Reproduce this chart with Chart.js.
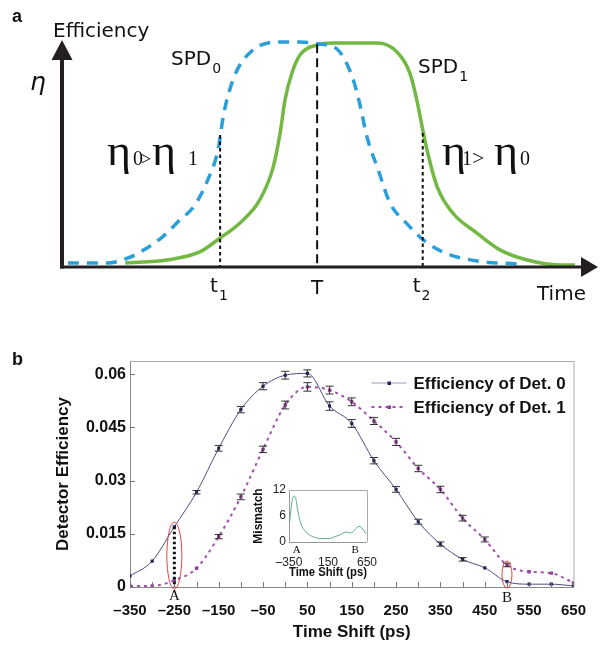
<!DOCTYPE html>
<html><head><meta charset="utf-8">
<script src="https://cdn.jsdelivr.net/npm/chart.js@4.4.1/dist/chart.umd.min.js"></script>
<style>
html,body{margin:0;padding:0;background:#fff;}
#wrap{position:relative;width:601px;height:645px;overflow:hidden;background:#fff;}
canvas{position:absolute;}
#ca{left:0;top:0;}
#cb{left:0;top:320px;}
#ci{left:240px;top:478px;}
</style></head><body>
<div id="wrap">
<canvas id="ca" width="601" height="320"></canvas>
<canvas id="cb" width="601" height="325"></canvas>
<canvas id="ci" width="150" height="102"></canvas>
</div>
<script>
// ---------- Panel a (schematic) ----------
const schemeTime0 = [1.1, 8.6, 12.3, 14.9, 18.7, 21.6, 24.8, 27.2, 29.1, 30.2, 32.1, 35.2, 40.7, 44.4, 48.1, 51.3, 54.1, 55.6, 56.9, 59.0, 61.2, 64.2, 67.9, 72.0, 77.4, 84.9];
const schemeEff0  = [1.8, 1.8, 4.0, 7.1, 13.3, 20.0, 27.6, 38.7, 52.0, 68.4, 84.4, 95.6, 100, 100, 99.1, 96.9, 84.9, 72.0, 57.8, 43.1, 28.4, 19.6, 11.1, 5.8, 2.7, 1.3];
const schemeTime1 = [11.8, 19.6, 25.7, 29.5, 33.2, 36.9, 39.4, 40.7, 41.6, 42.9, 44.4, 47.6, 50.6, 58.8, 62.5, 64.9, 66.2, 67.2, 68.1, 70.0, 72.9, 77.4, 81.7, 86.8, 92.9, 95.7];
const schemeEff1  = [1.8, 3.1, 6.7, 12.9, 19.6, 29.8, 44.4, 59.6, 74.2, 86.2, 94.2, 98.7, 99.6, 99.6, 95.6, 86.2, 74.2, 62.2, 52.0, 35.6, 24.0, 15.1, 7.6, 3.1, 0.9, 0.9];
const markerNames = ['t', 'T', 't'];
const markerSubs  = ['1', '', '2'];
const markerTimes = [29.5, 47.6, 67.3];
const markerTops  = [58.7, 99.0, 59.6];

// ---------- Panel b (measured efficiencies) ----------
const timeShifts = [-350, -300, -250, -200, -150, -100, -50, 0, 50, 100, 150, 200, 250, 300, 350, 400, 450, 500, 550, 600, 650];
const effDet0 = [0.0031, 0.0073, 0.0170, 0.0267, 0.0391, 0.0500, 0.0566, 0.0597, 0.0602, 0.0510, 0.0461, 0.0356, 0.0275, 0.0184, 0.0121, 0.0078, 0.0054, 0.0015, 0.0008, 0.0008, 0.0003];
const effDet1 = [0.0003, 0.0003, 0.0019, 0.0053, 0.0142, 0.0254, 0.0388, 0.0513, 0.0564, 0.0555, 0.0522, 0.0468, 0.0409, 0.0334, 0.0275, 0.0194, 0.0134, 0.0062, 0.0043, 0.0039, 0.0012];
const errDet0 = [0.0003, 0.0004, 0.0004, 0.0005, 0.0008, 0.0009, 0.0010, 0.0011, 0.0010, 0.0012, 0.0011, 0.0009, 0.0008, 0.0007, 0.0006, 0.0005, 0.0004, 0.0003, 0.0002, 0.0002, 0.0002];
const errDet1 = [0.0002, 0.0002, 0.0003, 0.0004, 0.0006, 0.0008, 0.0009, 0.0011, 0.0012, 0.0011, 0.0011, 0.0010, 0.0010, 0.0009, 0.0009, 0.0008, 0.0007, 0.0005, 0.0004, 0.0003, 0.0003];
const effTicks = [0, 0.015, 0.03, 0.045, 0.06];
const seriesNames = ['Efficiency of Det. 0', 'Efficiency of Det. 1'];
const pointA = -250, pointB = 500;

// ---------- Inset (mismatch) ----------
const mismatchShift = [-342, -313, -288, -263, -234, -198, -143, -52, 57, 165, 237, 310, 383, 437, 473, 546, 582, 636];
const mismatchVal   = [4.6, 9.2, 10.6, 10.0, 6.9, 4.2, 2.5, 1.3, 0.8, 0.8, 1.2, 1.7, 2.3, 2.1, 2.4, 3.6, 3.3, 1.9];
const insetXTicks = [-350, 150, 650];
const insetYTicks = [0, 6, 12];

Chart.defaults.font.family = "'Liberation Sans', Arial, sans-serif";
Chart.defaults.color = '#111';

const dashNum = v => (v < 0 ? '\u2013' + Math.abs(v) : String(v));

// ===== Panel a chart =====
const schemePlugin = {
  id: 'schemeDeco',
  afterDraw(chart) {
    const {ctx, chartArea: a, scales: {x, y}} = chart;
    const y0 = y.getPixelForValue(0);
    ctx.save();
    // marker lines
    ctx.strokeStyle = '#111';
    ctx.lineWidth = 2;
    markerTimes.forEach((t, i) => {
      const px = x.getPixelForValue(t);
      ctx.setLineDash(i === 1 ? [9, 5] : [3.5, 3]);
      ctx.beginPath();
      ctx.moveTo(px, y.getPixelForValue(markerTops[i]));
      ctx.lineTo(px, y0);
      ctx.stroke();
    });
    ctx.setLineDash([]);
    // axes + arrows
    const x0 = a.left;
    ctx.strokeStyle = '#231f20';
    ctx.fillStyle = '#231f20';
    ctx.lineWidth = 4;
    ctx.beginPath(); ctx.moveTo(x0, y0 + 1.5); ctx.lineTo(x0, a.top + 18); ctx.stroke();
    ctx.lineWidth = 3;
    ctx.beginPath(); ctx.moveTo(x0 - 2, y0); ctx.lineTo(a.right - 15, y0); ctx.stroke();
    ctx.beginPath(); ctx.moveTo(x0, a.top); ctx.lineTo(x0 - 10.5, a.top + 20); ctx.lineTo(x0 + 10.5, a.top + 20); ctx.closePath(); ctx.fill();
    ctx.beginPath(); ctx.moveTo(a.right, y0); ctx.lineTo(a.right - 17, y0 - 10); ctx.lineTo(a.right - 17, y0 + 10); ctx.closePath(); ctx.fill();

    // texts
    ctx.fillStyle = '#111';
    ctx.textBaseline = 'alphabetic';
    ctx.textAlign = 'left';
    ctx.font = "bold 18px 'Liberation Sans', Arial";
    ctx.fillText('a', 12, 22);
    const sans = "'DejaVu Sans', sans-serif";
    const spd = (px, py, sub) => {
      ctx.font = '20px ' + sans;
      ctx.fillText('SPD', px, py);
      const w = ctx.measureText('SPD').width;
      ctx.font = '14px ' + sans;
      ctx.fillText(sub, px + w + 1, py + 8);
    };
    ctx.font = '20px ' + sans;
    ctx.fillText('Efficiency', 53, 37);
    ctx.fillText('Time', 537, 300);
    spd(171, 65, '0');
    spd(418, 73, '1');
    ctx.font = 'italic 25px ' + sans;
    ctx.fillText('\u03b7', 30, 90);
    // marker labels
    markerTimes.forEach((t, i) => {
      const px = x.getPixelForValue(t);
      ctx.font = '20px ' + sans;
      const w = ctx.measureText(markerNames[i]).width;
      if (markerSubs[i]) {
        ctx.fillText(markerNames[i], px - 10, 292);
        ctx.font = '14px ' + sans;
        ctx.fillText(markerSubs[i], px - 10 + w + 1, 300);
      } else {
        ctx.fillText(markerNames[i], px - w / 2, 294);
      }
    });
    // eta relations
    const serif = "'Liberation Serif', 'Times New Roman', serif";
    const drawEta = (px) => {
      ctx.font = '44px ' + serif;
      const w = ctx.measureText('\u03b7').width;
      ctx.save();
      ctx.translate(px, 165);
      ctx.scale(24 / w, 1);
      ctx.fillText('\u03b7', 0, 0);
      ctx.restore();
    };
    const small = (s, px, size) => { ctx.font = size + 'px ' + serif; ctx.fillText(s, px, 165); };
    drawEta(107); small('0', 133, 20); small('>', 141, 18); drawEta(152); small('1', 188, 20);
    drawEta(442); small('1', 462, 20); small('>', 472, 22); drawEta(494); small('0', 520, 20);
    ctx.restore();
  }
};

new Chart(document.getElementById('ca'), {
  type: 'line',
  data: {
    datasets: [
      { label: 'SPD0', data: schemeTime0.map((t, i) => ({x: t, y: schemeEff0[i]})),
        borderColor: '#2b9fd9', borderWidth: 3.5, borderDash: [11, 8], pointRadius: 0,
        cubicInterpolationMode: 'monotone', borderCapStyle: 'butt' },
      { label: 'SPD1', data: schemeTime1.map((t, i) => ({x: t, y: schemeEff1[i]})),
        borderColor: '#72b843', borderWidth: 3.5, pointRadius: 0,
        cubicInterpolationMode: 'monotone' }
    ]
  },
  options: {
    responsive: false, animation: false, devicePixelRatio: 1,
    layout: { padding: { left: 62, right: 3, top: 40, bottom: 53 } },
    plugins: { legend: { display: false }, tooltip: { enabled: false } },
    scales: {
      x: { type: 'linear', min: 0, max: 100, display: false },
      y: { min: 0, max: 100.9, display: false }
    }
  },
  plugins: [schemePlugin]
});

// ===== Panel b chart =====
const decoB = {
  id: 'decoB',
  afterDatasetsDraw(chart) {
    const {ctx, chartArea: a, scales: {x, y}} = chart;
    ctx.save();
    // error bars
    const errs = [errDet0, errDet1];
    const vals = [effDet0, effDet1];
    ctx.lineWidth = 1;
    ctx.strokeStyle = '#333';
    [0, 1].forEach(k => {
      timeShifts.forEach((s, i) => {
        const px = x.getPixelForValue(s);
        const yt = y.getPixelForValue(vals[k][i] + errs[k][i]);
        const yb = y.getPixelForValue(vals[k][i] - errs[k][i]);
        if (yb - yt < 3) return;
        ctx.beginPath();
        ctx.moveTo(px, yt); ctx.lineTo(px, yb);
        ctx.moveTo(px - 4, yt); ctx.lineTo(px + 4, yt);
        ctx.moveTo(px - 4, yb); ctx.lineTo(px + 4, yb);
        ctx.stroke();
      });
    });
    // frame
    ctx.strokeStyle = '#aaa';
    ctx.beginPath();
    ctx.moveTo(a.left, a.top + 0.5); ctx.lineTo(a.right + 0.5, a.top + 0.5); ctx.lineTo(a.right + 0.5, a.bottom);
    ctx.stroke();
    // inward ticks
    ctx.strokeStyle = '#777';
    x.ticks.forEach(t => {
      const px = Math.round(x.getPixelForValue(t.value)) + 0.5;
      ctx.beginPath(); ctx.moveTo(px, a.bottom); ctx.lineTo(px, a.bottom - 5); ctx.stroke();
    });
    y.ticks.forEach(t => {
      const py = Math.round(y.getPixelForValue(t.value)) + 0.5;
      ctx.beginPath(); ctx.moveTo(a.left, py); ctx.lineTo(a.left + 5, py); ctx.stroke();
    });
    // dotted line at A
    const iA = timeShifts.indexOf(pointA);
    const pxA = x.getPixelForValue(pointA);
    ctx.strokeStyle = '#111';
    ctx.lineWidth = 3;
    ctx.setLineDash([2.5, 2.5]);
    ctx.beginPath(); ctx.moveTo(pxA, y.getPixelForValue(effDet0[iA])); ctx.lineTo(pxA, a.bottom); ctx.stroke();
    ctx.setLineDash([]);
    // red ellipses
    ctx.strokeStyle = '#e2463f';
    ctx.lineWidth = 1;
    const topA = y.getPixelForValue(0.0183), botA = y.getPixelForValue(-0.0006);
    ctx.beginPath(); ctx.ellipse(pxA, (topA + botA) / 2, 7.5, (botA - topA) / 2, 0, 0, Math.PI * 2); ctx.stroke();
    const pxB = x.getPixelForValue(pointB);
    const topB = y.getPixelForValue(0.0073), botB = y.getPixelForValue(-0.0003);
    ctx.beginPath(); ctx.ellipse(pxB, (topB + botB) / 2, 5, (botB - topB) / 2, 0, 0, Math.PI * 2); ctx.stroke();
    // A / B labels
    ctx.fillStyle = '#111';
    ctx.font = "15px 'Liberation Serif', 'Times New Roman', serif";
    ctx.textAlign = 'center';
    ctx.textBaseline = 'middle';
    ctx.fillText('A', pxA, a.bottom + 9);
    ctx.fillText('B', pxB, a.bottom + 11);
    // panel letter
    ctx.textAlign = 'left';
    ctx.textBaseline = 'alphabetic';
    ctx.font = "bold 18px 'Liberation Sans', Arial";
    ctx.fillText('b', 12, 45);
    // legend
    const lx = a.right - 202;
    const rows = [a.top + 22, a.top + 46];
    ctx.font = "bold 17px 'Liberation Sans', Arial";
    ctx.textBaseline = 'middle';
    rows.forEach((ly, k) => {
      ctx.lineWidth = k === 0 ? 1 : 2;
      ctx.strokeStyle = k === 0 ? '#9a9cc0' : '#a24fae';
      ctx.setLineDash(k === 0 ? [] : [3, 4]);
      ctx.beginPath(); ctx.moveTo(lx, ly); ctx.lineTo(lx + 35, ly); ctx.stroke();
      ctx.setLineDash([]);
      ctx.fillStyle = k === 0 ? '#1e2160' : '#93409a';
      ctx.fillRect(lx + 16, ly - 1.5, 3.5, 3.5);
      ctx.fillStyle = '#111';
      ctx.fillText(seriesNames[k], lx + 42, ly + 1);
    });
    ctx.restore();
  }
};

new Chart(document.getElementById('cb'), {
  type: 'line',
  data: {
    datasets: [
      { label: seriesNames[0], data: timeShifts.map((s, i) => ({x: s, y: effDet0[i]})),
        borderColor: '#4b4d86', borderWidth: 1, pointStyle: 'rect', pointRadius: 2.2,
        pointBackgroundColor: '#1e2160', pointBorderWidth: 0, cubicInterpolationMode: 'monotone' },
      { label: seriesNames[1], data: timeShifts.map((s, i) => ({x: s, y: effDet1[i]})),
        borderColor: '#a24fae', borderWidth: 2, borderDash: [3, 4], pointStyle: 'rect', pointRadius: 2.4,
        pointBackgroundColor: '#93409a', pointBorderWidth: 0, cubicInterpolationMode: 'monotone' }
    ]
  },
  options: {
    responsive: false, animation: false, devicePixelRatio: 1,
    layout: { padding: { left: 0, right: 26, top: 41, bottom: 0 } },
    plugins: { legend: { display: false }, tooltip: { enabled: false } },
    scales: {
      x: {
        type: 'linear', min: -350, max: 650,
        afterBuildTicks: s => { s.ticks = timeShifts.map(v => ({value: v})); },
        ticks: { autoSkip: false, maxRotation: 0, padding: 15, font: { size: 15, weight: 'bold' }, color: '#111',
          callback: v => ((v + 350) % 100 === 0 ? dashNum(v) : '') },
        grid: { display: false, drawTicks: false },
        border: { display: true, color: '#8a8a8a', width: 1 },
        title: { display: true, text: 'Time Shift (ps)', font: { size: 17, weight: 'bold' }, color: '#111', padding: { top: 0, bottom: 2 } },
        afterFit: s => { s.height = 58; }
      },
      y: {
        min: 0, max: 0.0637,
        afterBuildTicks: s => { s.ticks = effTicks.map(v => ({value: v})); },
        ticks: { padding: 4, font: { size: 16, weight: 'bold' }, color: '#111',
          callback: v => (v === 0 ? '0' : String(+v.toFixed(3))) },
        grid: { display: false, drawTicks: false },
        border: { display: true, color: '#8a8a8a', width: 1 },
        title: { display: true, text: 'Detector Efficiency', font: { size: 17, weight: 'bold' }, color: '#111', padding: { top: 53, bottom: 0 } },
        afterFit: s => { s.width = 130; }
      }
    }
  },
  plugins: [decoB]
});

// ===== Inset chart =====
const decoI = {
  id: 'decoI',
  beforeDraw(chart) {
    const {ctx, chartArea: a} = chart;
    ctx.save(); ctx.fillStyle = '#fff'; ctx.fillRect(a.left, a.top, a.right - a.left, a.bottom - a.top); ctx.restore();
  },
  afterDraw(chart) {
    const {ctx, chartArea: a, scales: {x}} = chart;
    ctx.save();
    ctx.strokeStyle = '#aaa'; ctx.lineWidth = 1;
    ctx.beginPath();
    ctx.moveTo(a.left, a.top + 0.5); ctx.lineTo(a.right + 0.5, a.top + 0.5); ctx.lineTo(a.right + 0.5, a.bottom);
    ctx.stroke();
    ctx.fillStyle = '#111';
    ctx.font = "11px 'Liberation Serif', 'Times New Roman', serif";
    ctx.textAlign = 'center'; ctx.textBaseline = 'middle';
    ctx.fillText('A', x.getPixelForValue(pointA), a.bottom + 8);
    ctx.fillText('B', x.getPixelForValue(pointB), a.bottom + 8);
    ctx.restore();
  }
};

new Chart(document.getElementById('ci'), {
  type: 'line',
  data: {
    datasets: [{ label: 'Mismatch', data: mismatchShift.map((s, i) => ({x: s, y: mismatchVal[i]})),
      borderColor: '#5fae8a', borderWidth: 1, pointRadius: 0, cubicInterpolationMode: 'monotone' }]
  },
  options: {
    responsive: false, animation: false, devicePixelRatio: 1,
    layout: { padding: { left: 0, right: 9, top: 12, bottom: 0 } },
    plugins: { legend: { display: false }, tooltip: { enabled: false } },
    scales: {
      x: {
        type: 'linear', min: -350, max: 650,
        afterBuildTicks: s => { s.ticks = insetXTicks.map(v => ({value: v})); },
        ticks: { autoSkip: false, maxRotation: 0, padding: 13, font: { size: 12 }, color: '#222', callback: v => dashNum(v) },
        grid: { display: false, drawTicks: false },
        border: { display: true, color: '#999', width: 1 },
        title: { display: true, text: 'Time Shift (ps)', font: { size: 12, weight: 'bold' }, color: '#111', padding: { top: 0, bottom: 0 } },
        afterFit: s => { s.height = 38; }
      },
      y: {
        min: 0, max: 12,
        afterBuildTicks: s => { s.ticks = insetYTicks.map(v => ({value: v})); },
        ticks: { padding: 3, font: { size: 12 }, color: '#222' },
        grid: { display: false, drawTicks: false },
        border: { display: true, color: '#999', width: 1 },
        title: { display: true, text: 'Mismatch', font: { size: 12, weight: 'bold' }, color: '#111', padding: { top: 11, bottom: 0 } },
        afterFit: s => { s.width = 49; }
      }
    }
  },
  plugins: [decoI]
});
</script>
</body></html>
